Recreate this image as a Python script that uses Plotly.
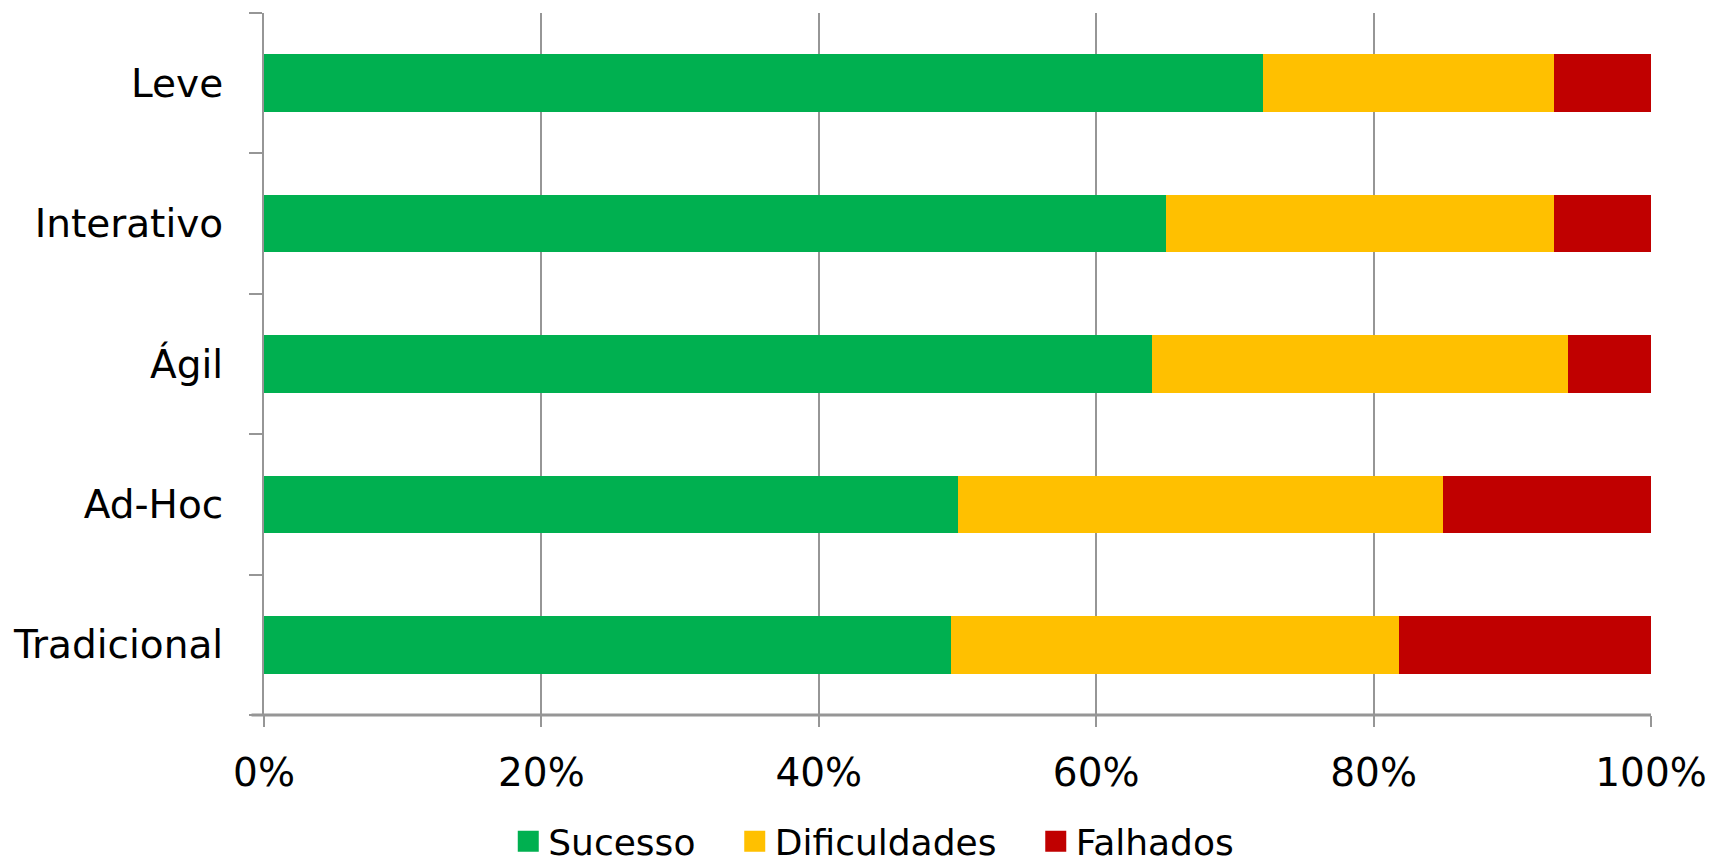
import plotly.graph_objects as go

categories = ["Tradicional", "Ad-Hoc", "Ágil", "Interativo", "Leve"]
sucesso = [49.5, 50, 64, 65, 72]
dificuldades = [32.3, 35, 30, 28, 21]
falhados = [18.2, 15, 6, 7, 7]
series_names = ["Sucesso", "Dificuldades", "Falhados"]
colors = ["#00B050", "#FFC000", "#C00000"]
tick_vals = [0, 20, 40, 60, 80, 100]
tick_text = ["0%", "20%", "40%", "60%", "80%", "100%"]

FONT = "'DejaVu Sans', sans-serif"
NBSP = "\u00a0"

fig = go.Figure()
for name, vals, col in zip(series_names, [sucesso, dificuldades, falhados], colors):
    fig.add_trace(go.Bar(y=categories, x=vals, name=name, orientation="h",
                         marker=dict(color=col, line=dict(width=0)),
                         showlegend=False))
for i, (name, col) in enumerate(zip(series_names, colors)):
    label = name + (NBSP * 3 if i < len(series_names) - 1 else "")
    fig.add_trace(go.Scatter(x=[None], y=[None], mode="markers", name=label,
                             marker=dict(symbol="square", size=24, color=col,
                                         line=dict(color=col, width=5))))

fig.update_layout(
    width=1712, height=859,
    barmode="stack", bargap=0.59,
    plot_bgcolor="white", paper_bgcolor="white",
    margin=dict(l=256, r=69, t=5, b=152),
    font=dict(family=FONT, size=39, color="black"),
    legend=dict(orientation="h", xref="container", x=0.5057, xanchor="center",
                yref="container", y=0.03, yanchor="middle",
                font=dict(size=36), itemwidth=30, tracegroupgap=0,
                traceorder="normal"),
)
fig.update_xaxes(range=[0, 100], tickvals=tick_vals, ticktext=tick_text,
                 showgrid=True, gridcolor="#969696", gridwidth=2,
                 ticks="outside", ticklen=11, tickcolor="#969696", tickwidth=2,
                 ticklabelstandoff=12,
                 showline=False, zeroline=False, fixedrange=True)
fig.update_yaxes(type="category", categoryorder="array", categoryarray=categories,
                 tickson="boundaries", ticks="outside", ticklen=13,
                 tickcolor="#969696", tickwidth=2, ticklabelstandoff=31,
                 showline=True, linecolor="#969696", linewidth=2,
                 showgrid=False)
# bottom axis line
fig.add_shape(type="line", xref="paper", yref="paper", x0=-0.009, x1=1, y0=0, y1=0,
              line=dict(color="#969696", width=3))

fig.write_html("out.html")
